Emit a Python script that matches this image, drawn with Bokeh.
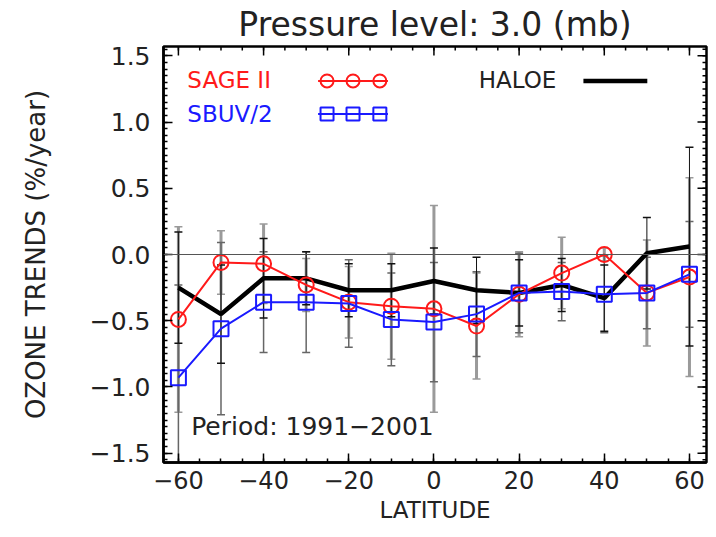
import math
from bokeh.plotting import figure
from bokeh.models import (Range1d, Span, Label, ColumnDataSource,
                          Whisker, TeeHead, FixedTicker)
from bokeh.embed import file_html
from bokeh.resources import INLINE

# ---------------- data ----------------
latitude = [-60, -50, -40, -30, -20, -10, 0, 10, 20, 30, 40, 50, 60]
sage = [-0.49, -0.06, -0.07, -0.23, -0.36, -0.39, -0.41, -0.54, -0.30, -0.14, 0.00, -0.29, -0.17]
sbuv = [-0.93, -0.56, -0.36, -0.36, -0.37, -0.49, -0.51, -0.45, -0.29, -0.28, -0.30, -0.29, -0.15]
haloe = [-0.25, -0.45, -0.18, -0.18, -0.27, -0.27, -0.20, -0.27, -0.29, -0.23, -0.33, 0.01, 0.06]
sage_err = [0.70, 0.24, 0.30, 0.20, 0.27, 0.40, 0.78, 0.40, 0.32, 0.27, 0.05, 0.40, 0.75]
sbuv_err = [0.70, 0.65, 0.38, 0.38, 0.33, 0.35, 0.45, 0.32, 0.30, 0.22, 0.29, 0.27, 0.40]
haloe_err = [0.42, 0.37, 0.30, 0.20, 0.20, 0.20, 0.25, 0.25, 0.25, 0.20, 0.25, 0.27, 0.75]

x_ticks = [-60, -40, -20, 0, 20, 40, 60]
x_tick_labels = ["\u221260", "\u221240", "\u221220", "0", "20", "40", "60"]
y_ticks = [-1.5, -1.0, -0.5, 0.0, 0.5, 1.0, 1.5]
y_tick_labels = ["\u22121.5", "\u22121.0", "\u22120.5", "0.0", "0.5", "1.0", "1.5"]

title_text = "Pressure level: 3.0 (mb)"
x_title = "LATITUDE"
y_title = "OZONE TRENDS (%/year)"
period_text = "Period: 1991\u22122001"
series_names = ["SAGE II", "SBUV/2", "HALOE"]

FONT = "DejaVu Sans"
RED = "#ff1a1a"
BLUE = "#1a1aff"
TXT = "#222222"

X0, X1 = -63.5, 64.0
Y0, Y1 = -1.57, 1.57

src = ColumnDataSource(dict(
    lat=latitude,
    sage_lo=[v - e for v, e in zip(sage, sage_err)],
    sage_hi=[v + e for v, e in zip(sage, sage_err)],
    sbuv_lo=[v - e for v, e in zip(sbuv, sbuv_err)],
    sbuv_hi=[v + e for v, e in zip(sbuv, sbuv_err)],
    haloe_lo=[v - e for v, e in zip(haloe, haloe_err)],
    haloe_hi=[v + e for v, e in zip(haloe, haloe_err)],
))

p = figure(width=708, height=529, output_backend="svg", toolbar_location=None,
           x_range=Range1d(X0, X1), y_range=Range1d(Y0, Y1),
           min_border_left=163, min_border_right=2, min_border_top=46,
           min_border_bottom=67)
p.background_fill_color = "white"
p.border_fill_color = "white"
p.grid.visible = False
p.outline_line_color = "black"
p.outline_line_width = 2.5

p.title.text = title_text
p.title.text_font = FONT
p.title.text_font_size = "33px"
p.title.text_font_style = "normal"
p.title.align = "center"
p.title.text_color = TXT
p.title.offset = 0
p.title.standoff = 5

x_minor = [-65 + 5 * i for i in range(27)]
y_minor = [round(-1.55 + 0.05 * i, 2) for i in range(63)]

for ax in (p.xaxis[0], p.yaxis[0]):
    ax.axis_line_width = 2.5
    ax.axis_line_color = "black"
    ax.major_tick_in = 9
    ax.major_tick_out = 0
    ax.minor_tick_in = 4
    ax.minor_tick_out = 0
    ax.major_tick_line_width = 1.5
    ax.minor_tick_line_width = 1.5
    ax.major_tick_line_color = "black"
    ax.minor_tick_line_color = "black"
    ax.major_label_text_font = FONT
    ax.major_label_text_color = TXT
    ax.axis_label_text_font = FONT
    ax.axis_label_text_font_style = "normal"
    ax.axis_label_text_color = TXT

p.xaxis.ticker = FixedTicker(ticks=x_ticks, minor_ticks=x_minor)
p.xaxis.major_label_overrides = dict(zip(x_ticks, x_tick_labels))
p.xaxis.axis_label = x_title
p.xaxis.major_label_text_font_size = "24px"
p.xaxis.axis_label_text_font_size = "23px"
p.xaxis.major_label_standoff = 8
p.xaxis.axis_label_standoff = 5

p.yaxis.ticker = FixedTicker(ticks=y_ticks, minor_ticks=y_minor)
p.yaxis.major_label_overrides = dict(zip(y_ticks, y_tick_labels))
p.yaxis.axis_label = y_title
p.yaxis.major_label_text_font_size = "25px"
p.yaxis.axis_label_text_font_size = "26px"
p.yaxis.major_label_standoff = 13
p.yaxis.axis_label_standoff = 36

# inward ticks on the top and right edges of the frame (half clipped by the frame)
p.scatter([X1] * len(y_minor), y_minor, marker="dash", size=8, line_color="black", line_width=1.5)
p.scatter([X1] * len(y_ticks), y_ticks, marker="dash", size=18, line_color="black", line_width=1.5)
p.scatter(x_minor, [Y1] * len(x_minor), marker="dash", angle=math.pi / 2, size=8,
          line_color="black", line_width=1.5)
p.scatter(x_ticks, [Y1] * len(x_ticks), marker="dash", angle=math.pi / 2, size=18,
          line_color="black", line_width=1.5)

# error bars
for lo, hi, col, lw in [("sage_lo", "sage_hi", "#9a9a9a", 3),
                        ("sbuv_lo", "sbuv_hi", "#666666", 1.5),
                        ("haloe_lo", "haloe_hi", "#111111", 1)]:
    w = Whisker(source=src, base="lat", lower=lo, upper=hi,
                line_color=col, line_width=lw,
                upper_head=TeeHead(size=8, line_color=col, line_width=1.5),
                lower_head=TeeHead(size=8, line_color=col, line_width=1.5))
    p.add_layout(w)

p.add_layout(Span(location=0, dimension="width", line_color="#555555", line_width=1.2))

# series
p.line(latitude, haloe, line_color="black", line_width=4.5)
p.line(latitude, sage, line_color=RED, line_width=2)
p.scatter(latitude, sage, marker="circle", size=15, fill_color=None,
          line_color=RED, line_width=2)
p.line(latitude, sbuv, line_color=BLUE, line_width=2)
p.scatter(latitude, sbuv, marker="square", size=15, fill_color=None,
          line_color=BLUE, line_width=2)

# legend (in data units)
leg_keys = [-25.1, -19.0, -12.7]
leg_line = [-27.2, -10.8]
p.line(leg_line, [1.31, 1.31], line_color=RED, line_width=2)
p.scatter(leg_keys, [1.31] * 3, marker="circle", size=13, fill_color=None,
          line_color=RED, line_width=2)
p.line(leg_line, [1.06, 1.06], line_color=BLUE, line_width=2)
p.scatter(leg_keys, [1.06] * 3, marker="square", size=13, fill_color=None,
          line_color=BLUE, line_width=2)
p.line([35.1, 50.1], [1.31, 1.31], line_color="black", line_width=4.5)

for txt, x, y, col in [(series_names[0], -57.9, 1.32, RED),
                       (series_names[1], -57.9, 1.06, BLUE),
                       (series_names[2], 10.5, 1.32, TXT)]:
    p.add_layout(Label(x=x, y=y, text=txt, text_color=col, text_font=FONT,
                       text_font_size="23px", text_baseline="middle"))

p.add_layout(Label(x=-57.0, y=-1.30, text=period_text, text_color=TXT,
                   text_font=FONT, text_font_size="25px", text_baseline="middle"))

open("out.html", "w").write(file_html(p, INLINE))
